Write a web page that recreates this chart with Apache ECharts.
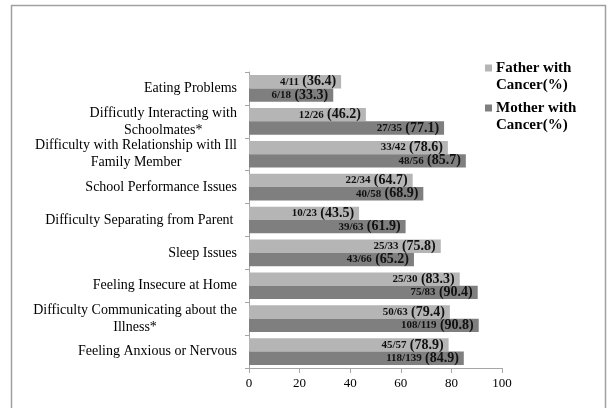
<!DOCTYPE html>
<html>
<head>
<meta charset="utf-8">
<script src="https://cdn.jsdelivr.net/npm/echarts@6/dist/echarts.min.js"></script>
<style>
html,body{margin:0;padding:0;background:#fff;}
#chart{width:607px;height:408px;}
</style>
</head>
<body>
<div id="chart"></div>
<script>
const categories = [
  'Eating Problems',
  'Difficutly Interacting with\nSchoolmates*',
  'Difficulty with Relationship with Ill\nFamily Member',
  'School Performance Issues',
  'Difficulty Separating from Parent ',
  'Sleep Issues',
  'Feeling Insecure at Home',
  'Difficulty Communicating about the\nIllness*',
  'Feeling Anxious or Nervous'
];
const fatherValues = [36.4, 46.2, 78.6, 64.7, 43.5, 75.8, 83.3, 79.4, 78.9];
const fatherCounts = ['4/11', '12/26', '33/42', '22/34', '10/23', '25/33', '25/30', '50/63', '45/57'];
const motherValues = [33.3, 77.1, 85.7, 68.9, 61.9, 65.2, 90.4, 90.8, 84.9];
const motherCounts = ['6/18', '27/35', '48/56', '40/58', '39/63', '43/66', '75/83', '108/119', '118/139'];
const xTicks = [0, 20, 40, 60, 80, 100];
const seriesNames = ['Father with Cancer(%)', 'Mother with Cancer(%)'];
const legendLines = [['Father with', 'Cancer(%)'], ['Mother with', 'Cancer(%)']];

const FONT = 'Liberation Serif';
const colors = ['#b5b5b5', '#7f7f7f'];

function barLabel(counts) {
  return {
    show: true,
    position: 'insideRight',
    distance: 5,
    formatter: p => '{s|' + counts[p.dataIndex] + '} {b|(' + p.value.toFixed(1) + ')}',
    rich: {
      s: {fontFamily: FONT, fontWeight: 'bold', fontSize: 11, color: '#111'},
      b: {fontFamily: FONT, fontWeight: 'bold', fontSize: 14, color: '#111'}
    }
  };
}

const chart = echarts.init(document.getElementById('chart'));
const legendGraphics = [];
legendLines.forEach((lines, i) => {
  const y0 = 68 + i * 40;
  legendGraphics.push({type: 'rect', shape: {x: 485, y: y0 - 3.5, width: 7, height: 7}, style: {fill: colors[i]}});
  lines.forEach((t, j) => {
    legendGraphics.push({type: 'text', x: 496, y: y0 + j * 17, style: {text: t, fontFamily: FONT, fontWeight: 'bold', fontSize: 15, fill: '#000', verticalAlign: 'middle', align: 'left'}});
  });
});

chart.setOption({
  animation: false,
  backgroundColor: '#fff',
  grid: {left: 249, right: 105, top: 72, bottom: 40, containLabel: false},
  xAxis: {
    type: 'value', min: 0, max: 100, interval: 20,
    axisLine: {show: true, lineStyle: {color: '#a6a6a6', width: 1}},
    axisTick: {show: true, length: 5, lineStyle: {color: '#a6a6a6'}},
    splitLine: {show: false},
    axisLabel: {fontFamily: FONT, fontSize: 13, color: '#000', margin: 9,
      formatter: v => xTicks.includes(v) ? String(v) : ''}
  },
  yAxis: {
    type: 'category', data: categories, inverse: true,
    axisLine: {show: true, lineStyle: {color: '#a6a6a6', width: 1}},
    axisTick: {show: true, length: 4, lineStyle: {color: '#a6a6a6'}},
    axisLabel: {
      margin: 12, fontFamily: FONT, fontSize: 14, color: '#000', lineHeight: 17,
      formatter: v => v.split('\n').map(l => '{c|' + l + '}').join('\n'),
      rich: {c: {align: 'center', fontFamily: FONT, fontSize: 14, color: '#000', lineHeight: 17}}
    }
  },
  series: [
    {name: seriesNames[0], type: 'bar', data: fatherValues, itemStyle: {color: colors[0]},
      barGap: '0%', barCategoryGap: '19%', label: barLabel(fatherCounts)},
    {name: seriesNames[1], type: 'bar', data: motherValues, itemStyle: {color: colors[1]},
      barGap: '0%', barCategoryGap: '19%', label: barLabel(motherCounts)}
  ],
  graphic: [
    {type: 'rect', shape: {x: 11.5, y: 5.5, width: 594, height: 430}, style: {fill: 'none', stroke: '#a0a0a0', lineWidth: 1.5}, silent: true}
  ].concat(legendGraphics)
});
</script>
</body>
</html>
